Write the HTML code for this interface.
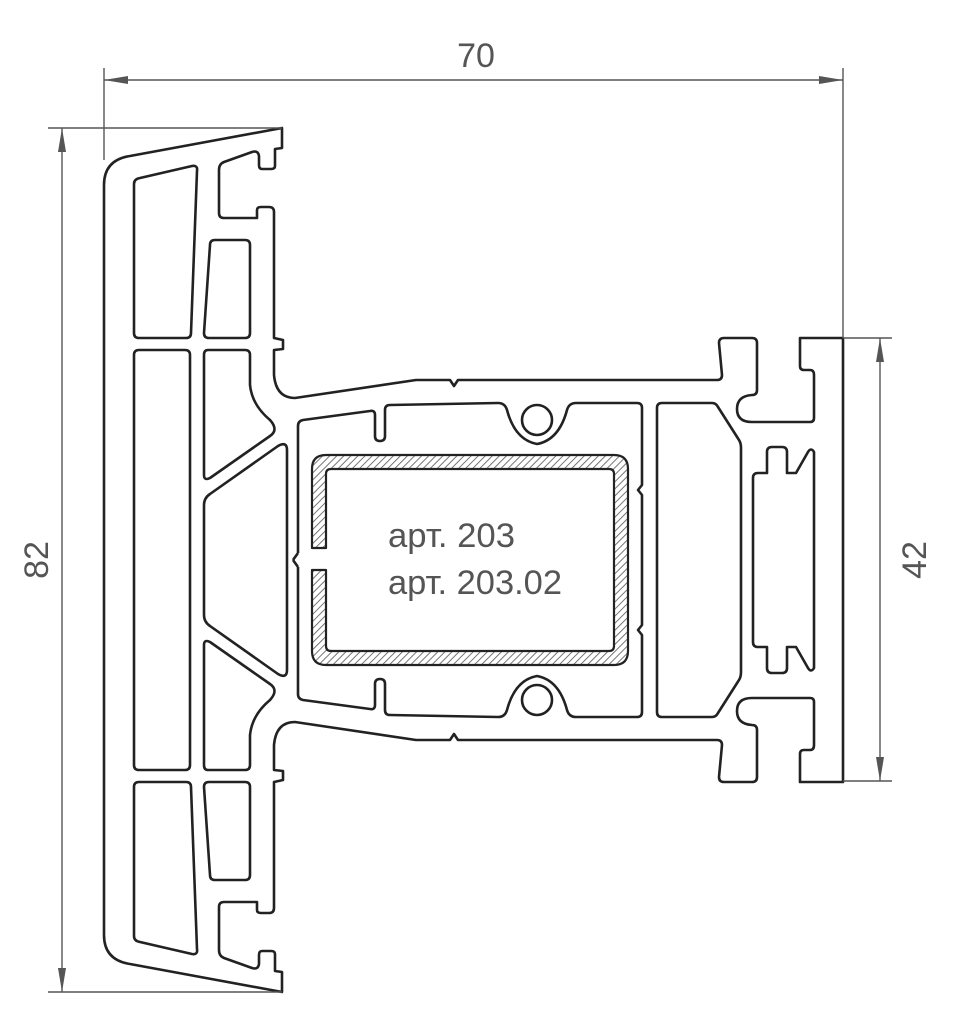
<!DOCTYPE html>
<html><head><meta charset="utf-8"><style>
html,body{margin:0;padding:0;background:#fff;}
svg{display:block;}
</style></head><body>
<svg width="962" height="1024" viewBox="0 0 962 1024" xmlns="http://www.w3.org/2000/svg">
<defs>
<pattern id="hatch" width="5" height="5" patternUnits="userSpaceOnUse" patternTransform="rotate(45)">
<rect width="5" height="5" fill="#fff"/>
<line x1="0" y1="0" x2="0" y2="5" stroke="#666" stroke-width="1.8"/>
</pattern>
<g id="h" fill="none" stroke="#222" stroke-width="2.6" stroke-linejoin="round">
<path d="M104,560 L104,185 Q104,160 130,156 L282,128 L282,148 L275,149 L275,166 Q275,169 271,169 L262,169 Q259,169 259,165 L259,156 Q258,150 252,152 L224,162 Q219,164 219,170 L219,213 Q219,218 224,218 L257,218 L257,210 Q257,207 261,207 L269,207 Q274,207 274,212 L274,338 L283,340 L283,349 L274,350 L274,375 Q276,398 295,398 L416,380 L450,380 L454,386 L458,380 L717,380 Q722,380 722,375 L719,343 Q719,338 724,338 L752,338 Q757,338 757,343 L757,390 Q757,395 752,395 Q737,396 737,409 Q737,422 752,422 L810,422 Q814,422 814,418 L814,375 Q814,370 810,370 L804,370 Q800,370 800,366 L800,338 L843,338 L843,560"/>
<path d="M140,178 L192,166 Q198,165 197,171 L191,333 Q191,338 186,338 L139,338 Q134,338 134,333 L134,184 Q134,179 140,178 Z"/>
<path d="M215,240 L245,240 Q250,240 250,245 L250,333 Q250,338 245,338 L209,338 Q204,338 204,333 L210,245 Q210,240 215,240 Z"/>
<path d="M208,350 L245,350 Q250,350 250,355 L250,385 Q252,405 270,420 Q279,430 270,436 L210,478 Q204,481 204,475 L204,355 Q204,350 208,350 Z"/>
<path d="M298,553 L298,426 Q298,421 303,420 L370,411 Q375,410 375,415 L375,436 Q375,441 380,441 Q385,441 385,436 L385,410 Q385,405 390,405 L498,403 Q505,403 507,410 Q515,440 537,444 Q559,440 567,410 Q569,403 576,403 L637,403 Q642,403 642,408 L642,485 L638,490 L642,495 L642,560 M298,553 L293,560"/>
<circle cx="537" cy="420" r="15"/>
<path d="M657,560 L657,408 Q657,403 662,403 L712,403 Q716,403 718,407 L739,440 Q741,443 741,448 L741,560"/>
<path d="M753,560 L753,478 Q753,473 758,473 L767,473 L767,452 Q767,447 772,447 L782,447 Q787,447 787,452 L787,473 L796,473 L808,452 Q811,447 814,452 L814,560"/>
</g>
</defs>
<use href="#h"/>
<use href="#h" transform="matrix(1 0 0 -1 0 1120)"/>
<g fill="none" stroke="#222" stroke-width="2.6" stroke-linejoin="round">
<path d="M139,350 L185,350 Q190,350 190,355 L190,765 Q190,770 185,770 L139,770 Q134,770 134,765 L134,355 Q134,350 139,350 Z"/>
<path d="M204,505 Q204,498 210,494 L278,446 Q287,441 287,450 L287,670 Q287,679 278,674 L210,626 Q204,622 204,615 Z"/>
</g>
<path d="M312,548 L312,469 Q312,455 326,455 L614,455 Q628,455 628,469 L628,651 Q628,665 614,665 L326,665 Q312,665 312,651 L312,570 L326,570 L326,646 Q326,651 331,651 L609,651 Q614,651 614,646 L614,474 Q614,469 609,469 L331,469 Q326,469 326,474 L326,548 Z" fill="url(#hatch)" stroke="#222" stroke-width="2.2" stroke-linejoin="round"/>
<g font-family="'Liberation Sans', sans-serif" fill="#555" font-size="34">
<text x="388" y="547" textLength="127" lengthAdjust="spacingAndGlyphs">арт. 203</text>
<text x="388" y="594" textLength="174" lengthAdjust="spacingAndGlyphs">арт. 203.02</text>
<text x="476" y="67" text-anchor="middle">70</text>
<text transform="translate(48,560) rotate(-90)" text-anchor="middle">82</text>
<text transform="translate(926,560) rotate(-90)" text-anchor="middle">42</text>
</g>
<g stroke="#555" stroke-width="1.4" fill="none">
<line x1="104" y1="68" x2="104" y2="160"/>
<line x1="843" y1="68" x2="843" y2="338"/>
<line x1="104" y1="80" x2="843" y2="80"/>
<line x1="48" y1="128" x2="282" y2="128"/>
<line x1="48" y1="992" x2="282" y2="992"/>
<line x1="62" y1="128" x2="62" y2="992"/>
<line x1="843" y1="338" x2="892" y2="338"/>
<line x1="843" y1="781" x2="892" y2="781"/>
<line x1="880" y1="338" x2="880" y2="781"/>
</g>
<g fill="#555">
<polygon points="104,80 128,76 128,84"/>
<polygon points="843,80 819,76 819,84"/>
<polygon points="62,128 58,152 66,152"/>
<polygon points="62,992 58,968 66,968"/>
<polygon points="880,338 876,362 884,362"/>
<polygon points="880,781 876,757 884,757"/>
</g>
</svg>
</body></html>
